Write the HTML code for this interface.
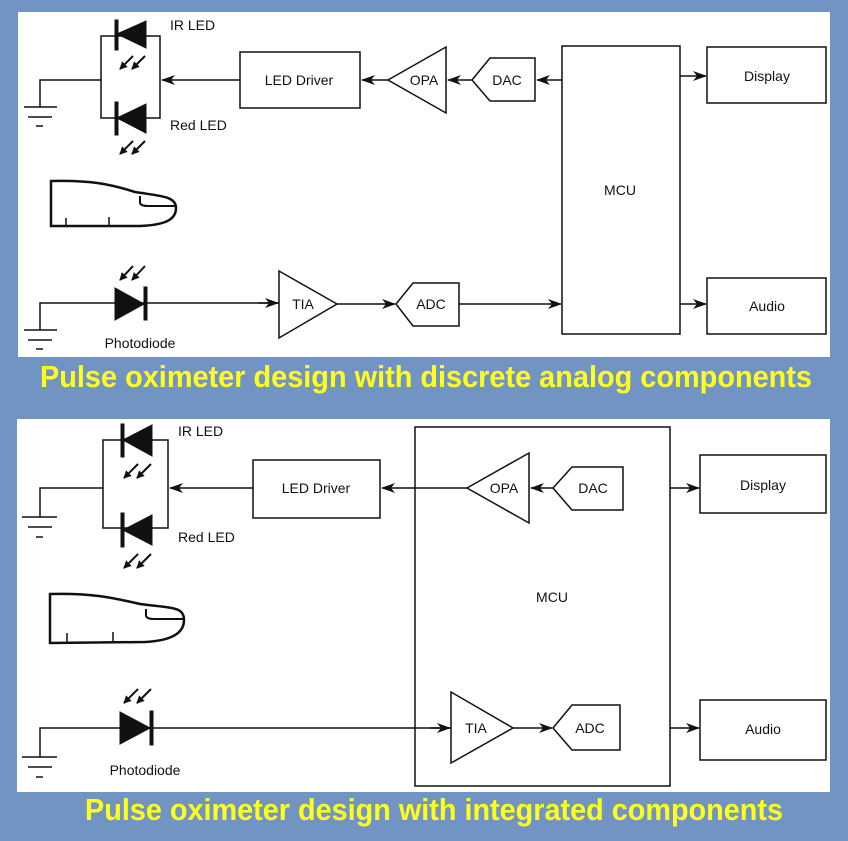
<!DOCTYPE html>
<html><head><meta charset="utf-8"><style>
html,body{margin:0;padding:0;background:#7294c2;}
svg{display:block;}
text{font-family:"Liberation Sans",Arial,sans-serif;}
</style></head><body>
<svg width="848" height="841" viewBox="0 0 848 841" xmlns="http://www.w3.org/2000/svg">
<defs>
<marker id="a" markerWidth="14" markerHeight="10" refX="13" refY="5" orient="auto" markerUnits="userSpaceOnUse"><path d="M0,0 L14,5 L0,10 L4,5 Z" fill="#111"/></marker>
<marker id="s" markerWidth="8" markerHeight="8" refX="7" refY="4" orient="auto" markerUnits="userSpaceOnUse"><path d="M0,0 L8,4 L0,8 Z" fill="#111"/></marker>
</defs>
<rect x="0" y="0" width="848" height="841" fill="#7294c2"/>
<rect x="18" y="12" width="812" height="345" fill="#fff"/>
<rect x="17" y="419" width="813" height="373" fill="#fff"/>

<g stroke="#111" stroke-width="1.5" fill="none">
<path d="M101,36 H160 V118 H101 Z"/>
<path d="M101,80 H40 V107"/>
<path d="M24,107 H57 M28,117 H52 M36,126 H43"/>
<line x1="240" y1="80" x2="162" y2="80" marker-end="url(#a)"/>
<rect x="240" y="52" width="120" height="56"/>
<line x1="388" y1="80" x2="362" y2="80" marker-end="url(#a)"/>
<path d="M388,80 L446,47 V113 Z"/>
<line x1="472" y1="80" x2="448" y2="80" marker-end="url(#a)"/>
<path d="M472,80 L490,58 H535 V101 H490 Z"/>
<line x1="562" y1="80" x2="537" y2="80" marker-end="url(#a)"/>
<rect x="562" y="46" width="118" height="288"/>
<rect x="707" y="47" width="119" height="56"/>
<rect x="707" y="278" width="119" height="56"/>
<line x1="680" y1="76" x2="706" y2="76" marker-end="url(#a)"/>
<line x1="680" y1="304" x2="706" y2="304" marker-end="url(#a)"/>
<path d="M40,330 V303 H279" />
<path d="M24,330 H57 M28,340 H52 M36,349 H43"/>
<line x1="258" y1="303" x2="278" y2="303" marker-end="url(#a)"/>
<path d="M279,271 L337,304 L279,338 Z"/>
<line x1="337" y1="304" x2="395" y2="304" marker-end="url(#a)"/>
<path d="M396,304 L413,283 H459 V326 H413 Z"/>
<line x1="459" y1="304" x2="561" y2="304" marker-end="url(#a)"/>
<path d="M51,181 C90,180 110,184 135,192 C160,196 176,196 176,208 C176,222 160,225 140,226 L51,226 Z" stroke-width="2.5"/>
<path d="M140,196 V203 Q141,206 148,206 H176" stroke-width="2"/>
<path d="M66,226 V218 M109,226 V217" stroke-width="1.5"/>
<g stroke-width="2">
<line x1="133" y1="56" x2="120" y2="69" marker-end="url(#s)"/>
<line x1="145" y1="56" x2="132" y2="69" marker-end="url(#s)"/>
<line x1="133" y1="141" x2="120" y2="154" marker-end="url(#s)"/>
<line x1="145" y1="141" x2="132" y2="154" marker-end="url(#s)"/>
<line x1="133" y1="266" x2="120" y2="280" marker-end="url(#s)"/>
<line x1="145" y1="266" x2="132" y2="280" marker-end="url(#s)"/>
</g>

<path d="M103,440 H168 V528 H103 Z"/>
<path d="M103,488 H40 V517"/>
<path d="M22,517 H57 M28,527 H52 M36,537 H43"/>
<line x1="253" y1="488" x2="170" y2="488" marker-end="url(#a)"/>
<rect x="253" y="460" width="127" height="58"/>
<line x1="467" y1="488" x2="382" y2="488" marker-end="url(#a)"/>
<path d="M467,488 L529,453 V523 Z"/>
<line x1="553" y1="488" x2="531" y2="488" marker-end="url(#a)"/>
<path d="M553,488 L572,467 H623 V510 H572 Z"/>
<rect x="415" y="427" width="255" height="359"/>
<rect x="700" y="455" width="126" height="58"/>
<rect x="700" y="700" width="126" height="60"/>
<line x1="670" y1="488" x2="699" y2="488" marker-end="url(#a)"/>
<line x1="670" y1="728" x2="699" y2="728" marker-end="url(#a)"/>
<path d="M40,757 V728 H451"/>
<path d="M22,757 H57 M28,767 H52 M36,777 H43"/>
<line x1="430" y1="728" x2="450" y2="728" marker-end="url(#a)"/>
<path d="M451,692 L513,728 L451,763 Z"/>
<line x1="513" y1="728" x2="552" y2="728" marker-end="url(#a)"/>
<path d="M553,728 L572,705 H620 V750 H572 Z"/>
<path d="M50,594 C90,593 110,597 140,604 C170,608 184,606 184,620 C184,636 165,641 145,642 L50,643 Z" stroke-width="2.5"/>
<path d="M146,609 V616 Q147,619 154,619 H184" stroke-width="2"/>
<path d="M67,643 V633 M113,643 V632" stroke-width="1.5"/>
<g stroke-width="2">
<line x1="138" y1="464" x2="124" y2="478" marker-end="url(#s)"/>
<line x1="151" y1="464" x2="137" y2="478" marker-end="url(#s)"/>
<line x1="138" y1="554" x2="124" y2="568" marker-end="url(#s)"/>
<line x1="151" y1="554" x2="137" y2="568" marker-end="url(#s)"/>
<line x1="138" y1="689" x2="124" y2="703" marker-end="url(#s)"/>
<line x1="151" y1="689" x2="137" y2="703" marker-end="url(#s)"/>
</g>
</g>

<g fill="#111" stroke="#111">
<path d="M117,34 L146,21 V48 Z"/><rect x="115" y="20" width="3" height="30"/>
<path d="M117,118 L146,104 V133 Z"/><rect x="115" y="102" width="3" height="33"/>
<path d="M115,288 L144,304 L115,320 Z"/><rect x="144" y="287" width="3" height="33"/>
<path d="M123,440 L152,425 V456 Z"/><rect x="121" y="424" width="3" height="33"/>
<path d="M123,530 L152,515 V545 Z"/><rect x="121" y="513" width="3" height="34"/>
<path d="M120,712 L150,728 L120,744 Z"/><rect x="150" y="711" width="3" height="34"/>
</g>

<g fill="#111" font-size="14">
<text x="170" y="30">IR LED</text>
<text x="170" y="130">Red LED</text>
<text x="299" y="85" text-anchor="middle">LED Driver</text>
<text x="424" y="85" text-anchor="middle">OPA</text>
<text x="507" y="85" text-anchor="middle">DAC</text>
<text x="620" y="195" text-anchor="middle">MCU</text>
<text x="767" y="81" text-anchor="middle">Display</text>
<text x="767" y="311" text-anchor="middle">Audio</text>
<text x="140" y="348" text-anchor="middle">Photodiode</text>
<text x="303" y="309" text-anchor="middle">TIA</text>
<text x="431" y="309" text-anchor="middle">ADC</text>

<text x="178" y="436">IR LED</text>
<text x="178" y="542">Red LED</text>
<text x="316" y="493" text-anchor="middle">LED Driver</text>
<text x="504" y="493" text-anchor="middle">OPA</text>
<text x="593" y="493" text-anchor="middle">DAC</text>
<text x="552" y="602" text-anchor="middle">MCU</text>
<text x="763" y="490" text-anchor="middle">Display</text>
<text x="763" y="734" text-anchor="middle">Audio</text>
<text x="145" y="775" text-anchor="middle">Photodiode</text>
<text x="476" y="733" text-anchor="middle">TIA</text>
<text x="590" y="733" text-anchor="middle">ADC</text>
</g>

<g fill="#ffff1e" font-weight="bold" font-size="31">
<text x="40" y="387" textLength="772" lengthAdjust="spacingAndGlyphs">Pulse oximeter design with discrete analog components</text>
<text x="85" y="820" textLength="698" lengthAdjust="spacingAndGlyphs">Pulse oximeter design with integrated components</text>
</g>
</svg>
</body></html>
